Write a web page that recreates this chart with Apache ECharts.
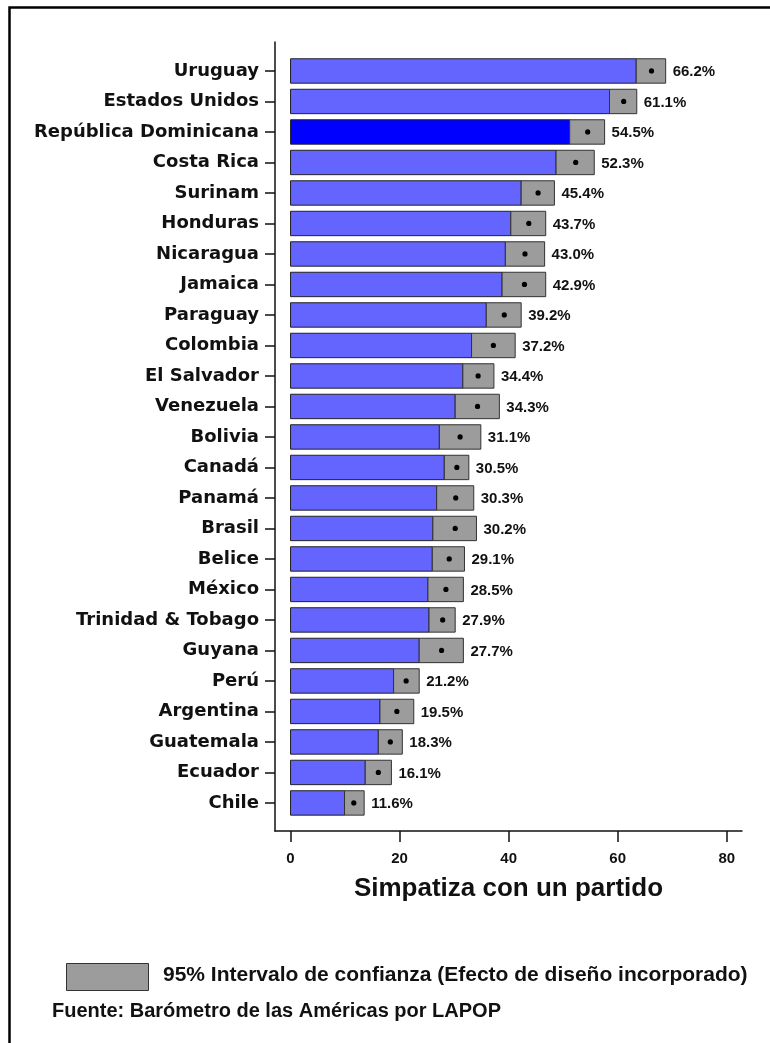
<!DOCTYPE html>
<html>
<head>
<meta charset="utf-8">
<script src="https://cdn.jsdelivr.net/npm/echarts@6/dist/echarts.min.js"></script>
<style>
  html, body { margin: 0; padding: 0; background: #fff; }
  #chart { width: 770px; height: 1043px; }
</style>
</head>
<body>
<div id="chart"></div>
<script>
  // países, de arriba hacia abajo
  const countries = [
    'Uruguay', 'Estados Unidos', 'República Dominicana', 'Costa Rica', 'Surinam',
    'Honduras', 'Nicaragua', 'Jamaica', 'Paraguay', 'Colombia', 'El Salvador',
    'Venezuela', 'Bolivia', 'Canadá', 'Panamá', 'Brasil', 'Belice', 'México',
    'Trinidad & Tobago', 'Guyana', 'Perú', 'Argentina', 'Guatemala', 'Ecuador', 'Chile'
  ]
  // porcentaje que simpatiza con un partido
  const means = [
    66.2, 61.1, 54.5, 52.3, 45.4, 43.7, 43.0, 42.9, 39.2, 37.2, 34.4, 34.3, 31.1,
    30.5, 30.3, 30.2, 29.1, 28.5, 27.9, 27.7, 21.2, 19.5, 18.3, 16.1, 11.6
  ]
  // límites del intervalo de confianza 95%
  const ciLow = [
    63.4, 58.5, 51.2, 48.7, 42.3, 40.4, 39.4, 38.8, 35.9, 33.2, 31.6, 30.2, 27.3,
    28.2, 26.8, 26.1, 26.0, 25.2, 25.4, 23.6, 18.9, 16.4, 16.1, 13.7, 9.9
  ]
  const ciHigh = [
    68.8, 63.5, 57.6, 55.7, 48.4, 46.8, 46.6, 46.8, 42.3, 41.2, 37.3, 38.3, 34.9,
    32.7, 33.6, 34.1, 31.9, 31.7, 30.2, 31.7, 23.6, 22.6, 20.5, 18.5, 13.5
  ]
  const xTicks = [0, 20, 40, 60, 80]
  const highlight = 'República Dominicana'

  const rows = countries.map((c, i) => [i, ciLow[i], ciHigh[i], means[i]])
  const rowIdx = countries.map((c, i) => i)

  const renderRow = (params, api) => {
    const i = api.value(0)
    const p0 = api.coord([0, i])
    const pLo = api.coord([api.value(1), i])
    const pHi = api.coord([api.value(2), i])
    const pM = api.coord([api.value(3), i])
    const h = api.size([0, 1])[1] * 0.8
    const top = p0[1] - h / 2
    const blue = countries[i] === highlight ? '#0000ff' : '#6464ff'
    return {
      type: 'group',
      children: [
        {
          type: 'rect',
          shape: { x: p0[0], y: top, width: pLo[0] - p0[0], height: h },
          style: { fill: blue, stroke: '#222', lineWidth: 1 }
        },
        {
          type: 'rect',
          shape: { x: pLo[0], y: top, width: pHi[0] - pLo[0], height: h },
          style: { fill: '#9c9c9c', stroke: '#333', lineWidth: 1 }
        },
        {
          type: 'circle',
          shape: { cx: pM[0], cy: pM[1], r: 2.6 },
          style: { fill: '#000' }
        },
        {
          type: 'text',
          x: pHi[0] + 7,
          y: pM[1] + 1,
          style: {
            text: api.value(3).toFixed(1) + '%',
            font: 'bold 15px "Liberation Sans", Arial, sans-serif',
            fill: '#111',
            verticalAlign: 'middle'
          }
        }
      ]
    }
  }

  const chart = echarts.init(document.getElementById('chart'))
  chart.setOption({
    animation: false,
    grid: { left: 275, top: 42, right: 28, bottom: 212 },
    xAxis: {
      type: 'value',
      min: -2.85,
      max: 82.8,
      name: 'Simpatiza con un partido',
      nameLocation: 'middle',
      nameGap: 45,
      nameTextStyle: {
        fontFamily: '"Liberation Sans", Arial, sans-serif',
        fontWeight: 'bold',
        fontSize: 26,
        color: '#111'
      },
      axisLine: { show: true, onZero: false, lineStyle: { color: '#111', width: 1.5 } },
      axisTick: { show: true, customValues: xTicks, length: 11, lineStyle: { color: '#111', width: 1.5 } },
      axisLabel: {
        customValues: xTicks,
        margin: 20,
        fontFamily: '"Liberation Sans", Arial, sans-serif',
        fontWeight: 'bold',
        fontSize: 15,
        color: '#111'
      },
      splitLine: { show: false }
    },
    yAxis: {
      type: 'value',
      inverse: true,
      min: -0.95,
      max: 24.92,
      axisLine: { show: true, onZero: false, lineStyle: { color: '#111', width: 1.5 } },
      axisTick: { show: true, customValues: rowIdx, length: 10, lineStyle: { color: '#111', width: 1.5 } },
      axisLabel: {
        customValues: rowIdx,
        formatter: (v) => countries[v],
        margin: 16,
        fontFamily: '"DejaVu Sans", Verdana, sans-serif',
        fontWeight: 'bold',
        fontSize: 18,
        color: '#111'
      },
      splitLine: { show: false }
    },
    series: [
      {
        type: 'custom',
        renderItem: renderRow,
        encode: { x: [1, 2, 3], y: 0 },
        data: rows
      }
    ],
    graphic: [
      {
        type: 'rect',
        left: 7,
        top: 5,
        shape: { width: 800, height: 1080 },
        style: { fill: 'none', stroke: '#000', lineWidth: 2.5 },
        silent: true
      },
      {
        type: 'rect',
        left: 66,
        top: 963,
        shape: { width: 82, height: 27 },
        style: { fill: '#9c9c9c', stroke: '#333', lineWidth: 1 }
      },
      {
        type: 'text',
        left: 163,
        top: 965,
        style: {
          text: '95% Intervalo de confianza (Efecto de diseño incorporado)',
          font: 'bold 21px "Liberation Sans", Arial, sans-serif',
          fill: '#111'
        }
      },
      {
        type: 'text',
        left: 52,
        top: 1001,
        style: {
          text: 'Fuente: Barómetro de las Américas por LAPOP',
          font: 'bold 20px "Liberation Sans", Arial, sans-serif',
          fill: '#111'
        }
      }
    ]
  })
</script>
</body>
</html>
